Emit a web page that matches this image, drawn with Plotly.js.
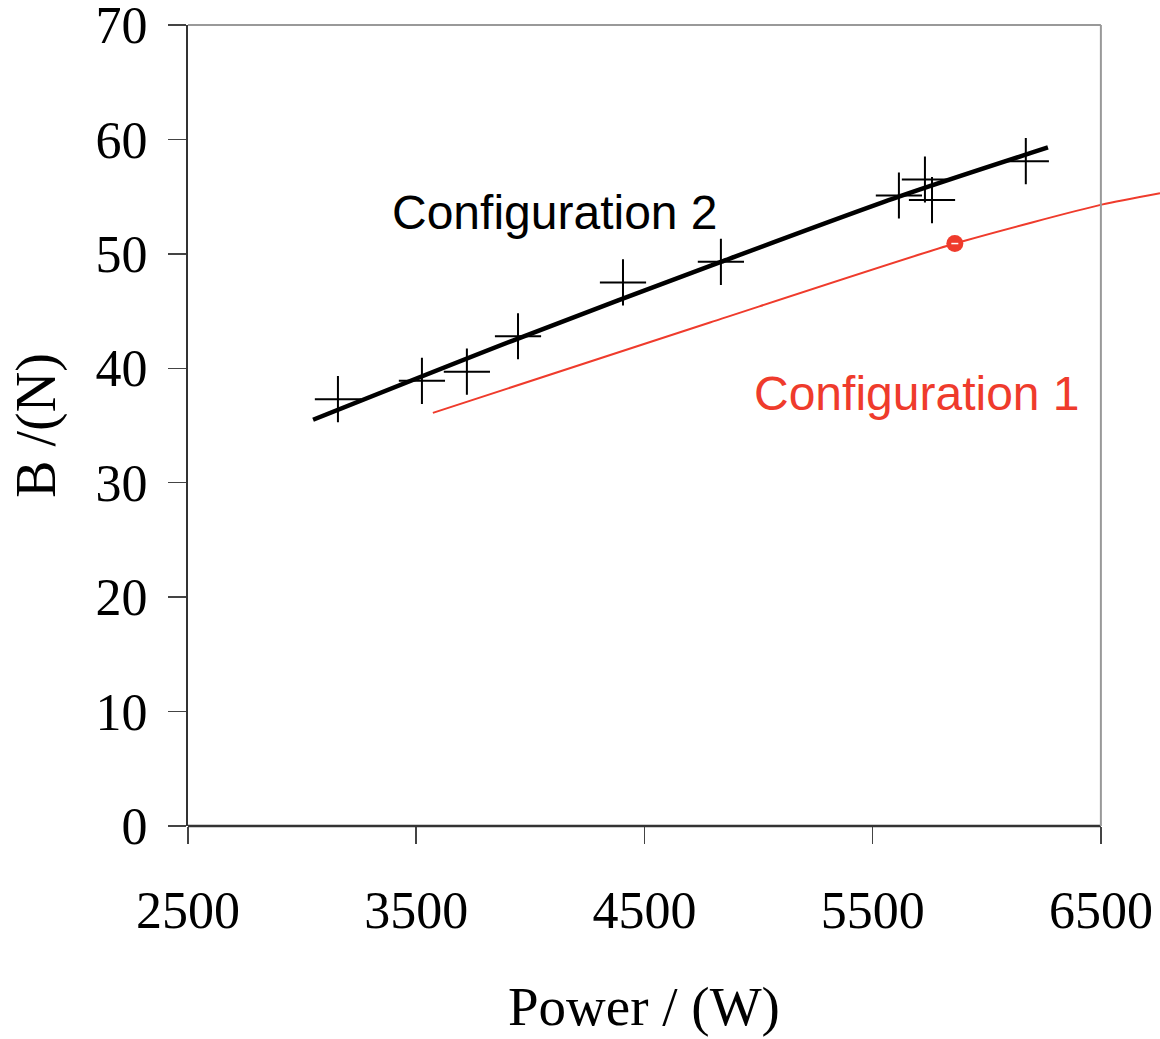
<!DOCTYPE html>
<html>
<head>
<meta charset="utf-8">
<script src="https://cdn.plot.ly/plotly-3.0.1.min.js"></script>
<style>html,body{margin:0;padding:0;background:#fff;}#chart{width:1160px;height:1039px;}</style>
</head>
<body>
<div id="chart"></div>
<script>
// Measured points, Configuration 2 (crosses)
var config2MeasX = [3157, 3525, 3722, 3946, 4406, 4835, 5615, 5729, 5760, 6171];
var config2MeasY = [37.3, 38.9, 39.7, 42.8, 47.5, 49.3, 55.1, 56.5, 54.7, 58.1];
// Fitted line, Configuration 2
var config2FitX = [3048, 3946, 4835, 5615, 6268];
var config2FitY = [35.5, 42.6, 49.3, 55.0, 59.3];
// Curve, Configuration 1
var config1X = [3573, 4787, 5860, 6503, 6759];
var config1Y = [36.1, 44.0, 50.9, 54.3, 55.3];
// Highlighted point, Configuration 1
var config1PointX = [5860];
var config1PointY = [50.9];

var xTicks = [2500, 3500, 4500, 5500, 6500];
var yTicks = [0, 10, 20, 30, 40, 50, 60, 70];
var xMin = 2500, xFrameMax = 6500, xMax = 6759;
var yMin = 0, yMax = 70;

var frac = (xFrameMax - xMin) / (xMax - xMin);
var red = '#EF3B2C';

var traces = [
  {x: config1X, y: config1Y, mode: 'lines', line: {color: red, width: 2, shape: 'spline', smoothing: 0.6}},
  {x: config1PointX, y: config1PointY, mode: 'markers', marker: {symbol: 'circle', size: 17, color: red}},
  {x: config1PointX, y: config1PointY, mode: 'markers', marker: {symbol: 'line-ew', size: 5, color: '#fff', line: {color: '#fff', width: 1.5}}},
  {x: config2FitX, y: config2FitY, mode: 'lines', line: {color: '#000', width: 4.5, shape: 'spline', smoothing: 0.8}},
  {x: config2MeasX, y: config2MeasY, mode: 'markers', marker: {symbol: 'cross-thin', size: 33, color: '#000', line: {color: '#000', width: 2}}}
];

var serif = 'Liberation Serif, Times New Roman, serif';
var sans = 'Liberation Sans, Arial, sans-serif';

var layout = {
  width: 1160, height: 1039,
  margin: {l: 188, r: 0, t: 25, b: 213},
  paper_bgcolor: '#fff', plot_bgcolor: '#fff',
  showlegend: false,
  font: {family: serif, color: '#000'},
  xaxis: {
    range: [xMin, xMax], tickvals: xTicks, ticktext: xTicks.map(String),
    ticks: 'outside', ticklen: 17, tickwidth: 1.5, tickcolor: '#444',
    showline: false, showgrid: false, zeroline: false,
    tickfont: {family: serif, size: 52, color: '#000'},
    ticklabelstandoff: 22, ticklabeloverflow: 'allow'
  },
  yaxis: {
    range: [yMin, yMax], tickvals: yTicks, ticktext: yTicks.map(String),
    ticks: 'outside', ticklen: 18, tickwidth: 1.5, tickcolor: '#444',
    showline: true, linecolor: '#333', linewidth: 2,
    showgrid: false, zeroline: false,
    tickfont: {family: serif, size: 52, color: '#000'},
    ticklabelstandoff: 10, ticklabeloverflow: 'allow',
    title: {text: 'B /(N)', font: {family: serif, size: 56, color: '#000'}, standoff: 22}
  },
  shapes: [
    {type: 'line', xref: 'paper', yref: 'paper', x0: 0, x1: frac, y0: 0, y1: 0, line: {color: '#333', width: 2.5}},
    {type: 'line', xref: 'paper', yref: 'paper', x0: 0, x1: frac, y0: 1, y1: 1, line: {color: '#999', width: 2}},
    {type: 'line', xref: 'paper', yref: 'paper', x0: frac, x1: frac, y0: 0, y1: 1, line: {color: '#999', width: 2}}
  ],
  annotations: [
    {x: 4110, y: 53.6, xref: 'x', yref: 'y', text: 'Configuration 2', showarrow: false, font: {family: sans, size: 48, color: '#000'}},
    {x: 5694, y: 37.8, xref: 'x', yref: 'y', text: 'Configuration 1', showarrow: false, font: {family: sans, size: 48, color: red}},
    {x: frac / 2, y: 0, xref: 'paper', yref: 'paper', yanchor: 'middle', yshift: -180, text: 'Power / (W)', showarrow: false, font: {family: serif, size: 55, color: '#000'}}
  ]
};

Plotly.newPlot('chart', traces, layout, {displayModeBar: false, staticPlot: true});
</script>
</body>
</html>
